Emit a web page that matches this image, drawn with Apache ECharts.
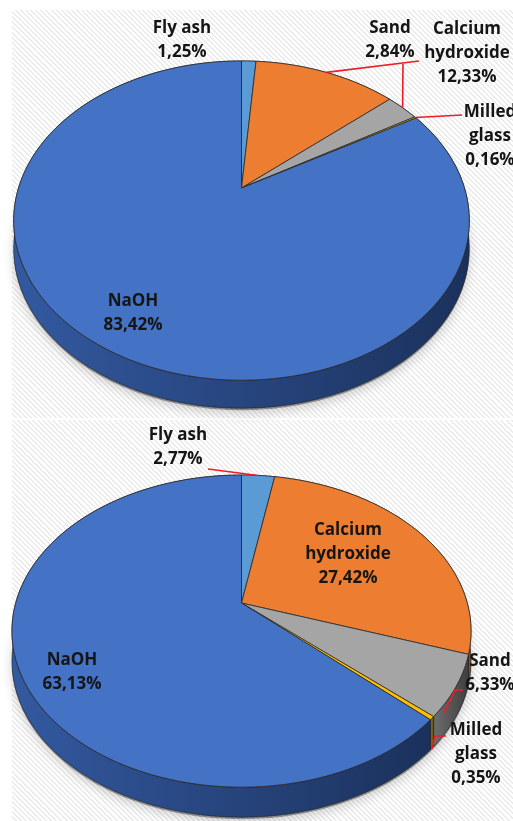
<!DOCTYPE html>
<html><head><meta charset="utf-8">
<script src="https://cdn.jsdelivr.net/npm/echarts@6/dist/echarts.min.js"></script>
<style>
html,body{margin:0;padding:0;background:#fff;}
#wrap{position:relative;width:513px;height:821px;overflow:hidden;}
.panel{position:absolute;left:12px;right:0;background:repeating-linear-gradient(45deg,#ffffff 0px,#ffffff 2.2px,#ebebeb 2.2px,#ebebeb 3.6px);}
#chart{position:absolute;left:0;top:0;width:513px;height:821px;}
</style></head>
<body>
<div id="wrap">
  <div class="panel" style="top:10px;height:408px;"></div>
  <div class="panel" style="top:420px;height:401px;"></div>
  <div id="chart"></div>
</div>
<script>
// ---- data ----
const categories = ['Fly ash', 'Calcium hydroxide', 'Sand', 'Milled glass', 'NaOH'];
const labelNames = ['Fly ash', 'Calcium\nhydroxide', 'Sand', 'Milled\nglass', 'NaOH'];
const valuesTop = [1.25, 12.33, 2.84, 0.16, 83.42];
const valuesBottom = [2.77, 27.42, 6.33, 0.35, 63.13];

// ---- styles ----
const faceColors = ['#5B9BD5', '#ED7D31', '#A5A5A5', '#FFC000', '#4472C4'];
const wallColors = [['#3f78b0', '#2c5a88'], ['#c0621f', '#9a4b14'], ['#6e6e6e', '#3e3e3e'], ['#8a7420', '#5e4f12'], ['#3359a0', '#1b315c']];
const FONT = '"Open Sans", sans-serif';

// ---- layout (perspective disk + label placement) ----
const pies = [
  { cx: 241.5, cy: 188, R: 223, S: 153, k: 0.204, d: 28, values: valuesTop,
    labels: [
      { x: 182, y: 40.5, leader: null },
      { x: 467, y: 53, leader: { t: 0.5, dy: 0, pts: [[419, 61]] } },
      { x: 390, y: 40.5, leader: { t: 0.5, dy: 0, pts: [[403, 64]] } },
      { x: 490, y: 136.5, leader: { t: 0.5, dy: 0, pts: [[462, 115]] } },
      { x: 133, y: 313.5, leader: null }
    ] },
  { cx: 241.5, cy: 603, R: 225.8, S: 151, k: 0.18, d: 30, values: valuesBottom,
    labels: [
      { x: 178, y: 447.5, leader: { t: 0.5, dy: 0, pts: [[208, 469]] } },
      { x: 348, y: 554, leader: null },
      { x: 490, y: 673.5, leader: { t: 0.8, dy: 8, pts: [[455, 690], [463, 690]] } },
      { x: 476, y: 754, leader: { t: 0.5, dy: 31, pts: [[435, 736], [446, 736]] } },
      { x: 72, y: 672.5, leader: null }
    ] }
];

function P(g, th, r) {
  if (r == null) r = 1;
  const x = r * Math.sin(th), z = r * Math.cos(th);
  const w = 1 + g.k * z;
  return [g.cx + g.R * x / w, g.cy - g.S * z / w];
}
function arc(g, a1, a2, dy) {
  const n = Math.max(2, Math.ceil(Math.abs(a2 - a1) / (Math.PI / 180)));
  const pts = [];
  for (let i = 0; i <= n; i++) {
    const p = P(g, a1 + (a2 - a1) * i / n);
    pts.push([p[0], p[1] + (dy || 0)]);
  }
  return pts;
}
function fmt(v) { return v.toFixed(2).replace('.', ',') + '%'; }

function makeSeries(g) {
  const total = g.values.reduce((a, b) => a + b, 0);
  const starts = [];
  let acc = 0;
  g.values.forEach(v => { starts.push(acc); acc += v; });
  return {
    type: 'custom',
    coordinateSystem: 'none',
    silent: true,
    animation: false,
    data: g.values.map((v, i) => ({ name: categories[i], value: v })),
    renderItem: function (params, api) {
      const i = params.dataIndex;
      const v = g.values[i];
      const a1 = starts[i] / total * 2 * Math.PI;
      const a2 = (starts[i] + v) / total * 2 * Math.PI;
      const top = arc(g, a1, a2, 0);
      const bottom = arc(g, a1, a2, g.d).reverse();
      const children = [];
      if (i === 0) {
        const full = arc(g, 0, 2 * Math.PI, g.d + 2);
        children.push({ type: 'polygon', z2: -5, shape: { points: full },
          style: { fill: 'rgba(0,0,0,0.35)', shadowBlur: 12, shadowColor: 'rgba(0,0,0,0.55)', shadowOffsetY: 3 } });
      }
      children.push({ type: 'polygon', z2: 0, shape: { points: top.concat(bottom) },
        style: { fill: new echarts.graphic.LinearGradient(0, 0, 1, 0, [
          { offset: 0, color: wallColors[i][0] }, { offset: 1, color: wallColors[i][1] }]),
          stroke: '#1d1d1d', lineWidth: 0.6 } });
      children.push({ type: 'polygon', z2: 10, shape: { points: [[g.cx, g.cy]].concat(top) },
        style: { fill: faceColors[i], stroke: '#2a2a2a', lineWidth: 0.8 } });
      const L = g.labels[i];
      if (L.leader) {
        const am = a1 + (a2 - a1) * L.leader.t;
        const s = P(g, am);
        const pts = [[s[0], s[1] + L.leader.dy]].concat(L.leader.pts);
        children.push({ type: 'polyline', z2: 15, shape: { points: pts },
          style: { stroke: '#ee1c25', lineWidth: 1.6, fill: null } });
      }
      children.push({ type: 'text', z2: 20, x: L.x, y: L.y,
        style: { text: labelNames[i] + '\n' + fmt(v), fontFamily: FONT, fontWeight: 'bold', fontSize: 17,
          lineHeight: 24, fill: '#151515', align: 'center', verticalAlign: 'middle' } });
      return { type: 'group', children: children };
    }
  };
}

const chart = echarts.init(document.getElementById('chart'), null, { renderer: 'canvas' });
chart.setOption({
  backgroundColor: 'transparent',
  animation: false,
  series: pies.map(makeSeries)
});
</script>
</body></html>
